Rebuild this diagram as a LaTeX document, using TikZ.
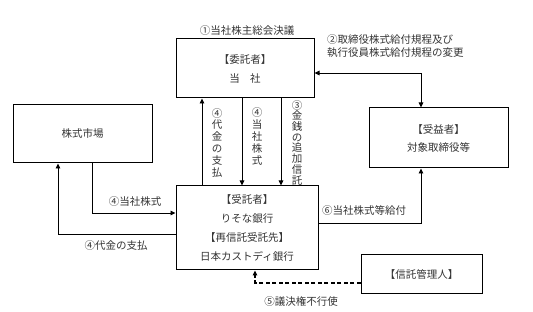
\documentclass[tikz,border=0pt]{standalone}
\usepackage{fontspec}
\setmainfont{Noto Sans CJK JP}
\usetikzlibrary{arrows.meta}
\begin{document}
\begin{tikzpicture}[
  x=1pt, y=-1pt,
  font=\fontsize{10.5}{12}\selectfont,
  box/.style={draw, line width=1pt, align=center, inner sep=0pt,
    text=black!80, font=\fontsize{10.5}{19}\selectfont},
  lbl/.style={text=black!80, inner sep=0pt},
  vlbl/.style={text=black!80, inner sep=0pt, align=center},
  arr/.style={line width=0.9pt, -{Triangle[length=5pt,width=4.5pt]}},
  darr/.style={line width=0.9pt, {Triangle[length=5pt,width=4.5pt]}-{Triangle[length=5pt,width=4.5pt]}},
  dasharr/.style={arr, dash pattern=on 4pt off 2.5pt, line width=1.1pt}]
\useasboundingbox (0,0) rectangle (533,312);
% boxes
\node[box, minimum width=138pt, minimum height=59pt] (itaku) at (245,68.5) {【委託者】\\当\quad 社};
\node[box, minimum width=139pt, minimum height=60pt, font=\fontsize{10.5}{18}\selectfont] (jueki) at (438.5,138) {【受益者】\\対象取締役等};
\node[box, minimum width=139pt, minimum height=58pt] (shijo) at (82.5,134) {株式市場};
\node[box, minimum width=142pt, minimum height=84pt] (jutaku) at (247,228) {【受託者】\\りそな銀行\\【再信託受託先】\\日本カストディ銀行};
\node[box, minimum width=121pt, minimum height=39pt] (kanri) at (421.5,274.5) {【信託管理人】};
% connectors
\draw[darr] (itaku.east |- 0,73) -| (jueki.north -| 421,0);
\draw[arr] (jutaku.north -| 202,0) -- (itaku.south -| 202,0);
\draw[arr] (itaku.south -| 242,0) -- (jutaku.north -| 242,0);
\draw[arr] (itaku.south -| 281,0) -- (jutaku.north -| 281,0);
\draw[arr] (shijo.south -| 92,0) |- (jutaku.west |- 0,213);
\draw[arr] (jutaku.west |- 0,234) -| (shijo.south -| 58,0);
\draw[arr] (jutaku.east |- 0,223) -| (jueki.south -| 421,0);
\draw[dasharr] (kanri.west |- 0,283) -| (jutaku.south -| 255,0);
% labels
\node[lbl] (l1) at (247,31) {①当社株主総会決議};
\node[lbl, anchor=west, align=left, font=\fontsize{10.5}{13}\selectfont] (l2) at (327,46.5) {②取締役株式給付規程及び\\執行役員株式給付規程の変更};
\node[vlbl, font=\fontsize{10.5}{11.8}\selectfont] (l4a) at (217,142.5) {④\\代\\金\\の\\支\\払};
\node[vlbl, font=\fontsize{10.5}{11.8}\selectfont] (l4b) at (257,136.5) {④\\当\\社\\株\\式};
\node[vlbl, font=\fontsize{10.5}{10.7}\selectfont] (l3) at (297,142.5) {③\\金\\銭\\の\\追\\加\\信\\託};
\node[lbl] (l4c) at (135,202) {④当社株式};
\node[lbl] (l4d) at (116,246) {④代金の支払};
\node[lbl] (l6) at (364,211) {⑥当社株式等給付};
\node[lbl] (l5) at (301,302) {⑤議決権不行使};
\end{tikzpicture}
\end{document}
